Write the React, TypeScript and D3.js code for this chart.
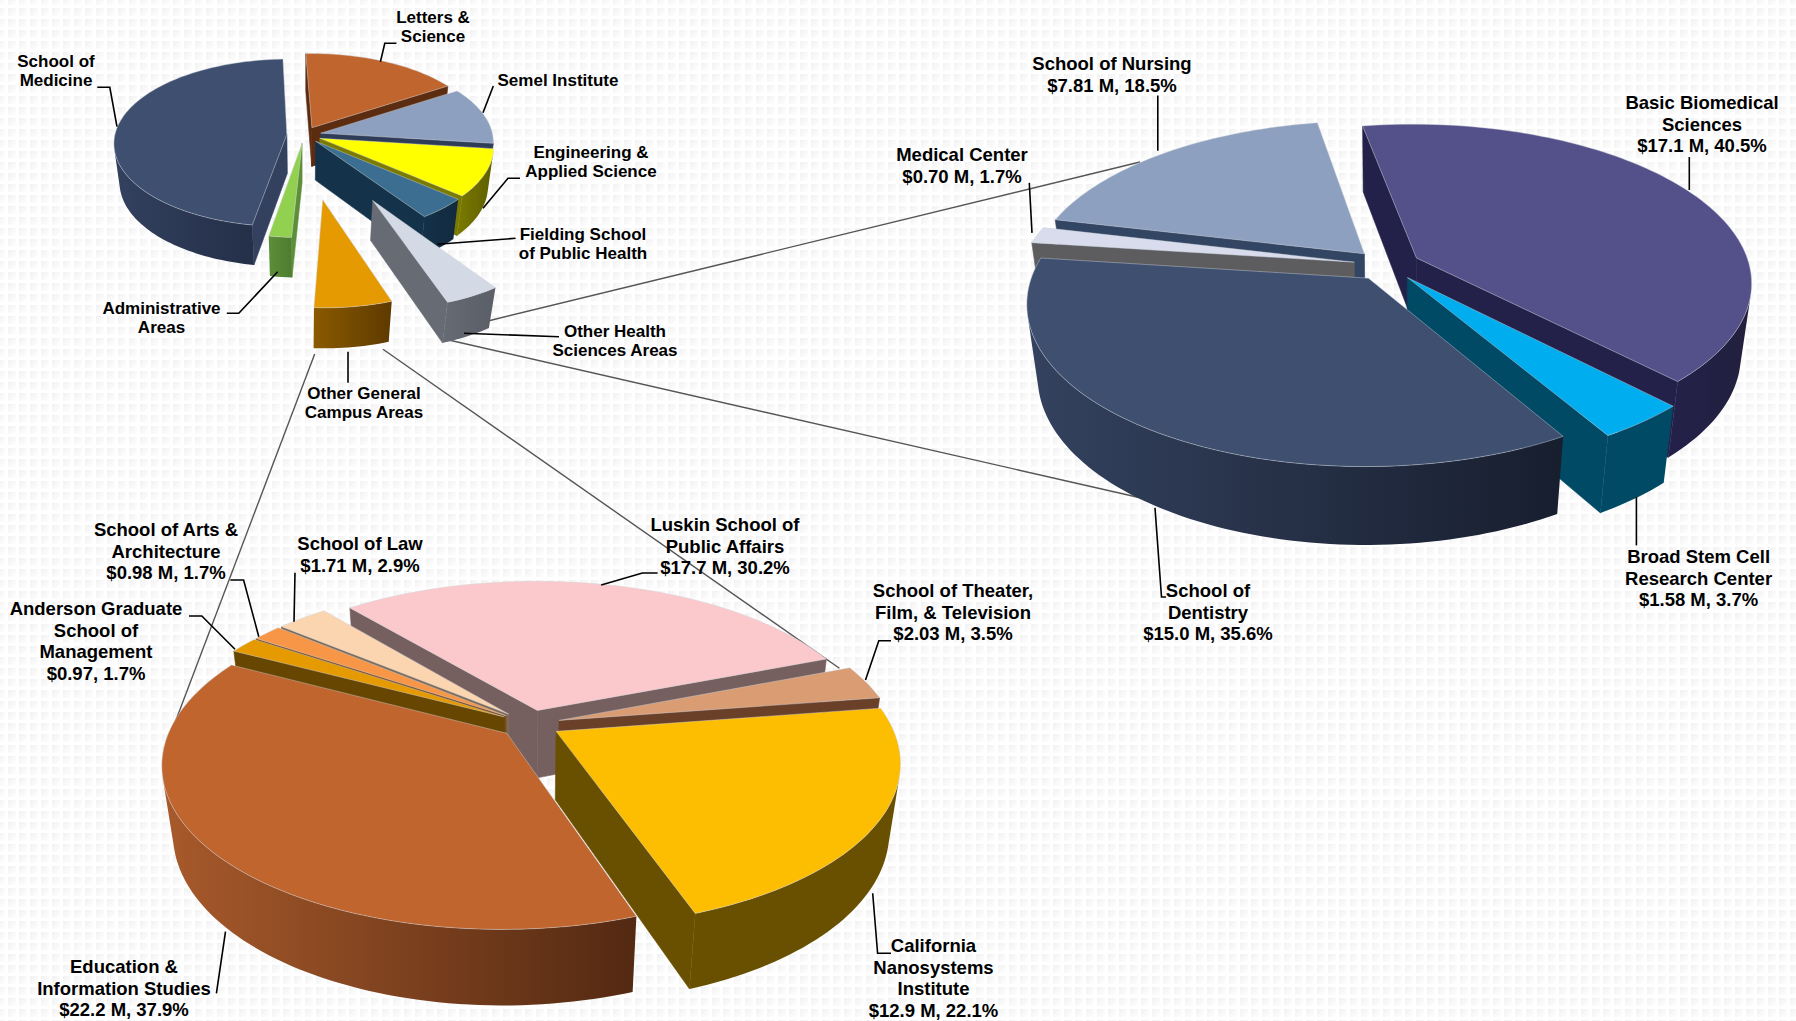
import { useEffect, useRef } from "react";
import * as d3 from "d3";

const WIDTH = 1796;
const HEIGHT = 1021;

// main pie, values (percent of total)
const campusNames = ["Letters & Science", "Semel Institute", "Engineering & Applied Science", "Fielding School of Public Health", "Other Health Sciences Areas", "Other General Campus Areas", "Administrative Areas", "School of Medicine"];
const campusValues = [16.5, 11, 9.2, 4.2, 4.4, 6.1, 1.9, 46.7];

const healthNames = ["Basic Biomedical Sciences", "Broad Stem Cell Research Center", "School of Dentistry", "Medical Center", "School of Nursing"];
const healthValues = [17.1, 1.58, 15.0, 0.7, 7.81];

const generalNames = ["Luskin School of Public Affairs", "School of Theater, Film, & Television", "California Nanosystems Institute", "Education & Information Studies", "Anderson Graduate School of Management", "School of Arts & Architecture", "School of Law"];
const generalValues = [17.7, 2.03, 12.9, 22.2, 0.97, 0.98, 1.71];

// styling per slice: top colour, wall colour left -> right
const campusTop = ["#C0652D", "#8EA0C0", "#FFFF00", "#3C6E91", "#D3DAE6", "#E49A00", "#92D050", "#3E4F70"];
const campusWall = [["#5C2C10", "#5C2C10"], ["#2E3C58", "#2E3C58"], ["#7A7A00", "#5E5E00"], ["#14324A", "#122A3E"], ["#666B74", "#5A5E66"], ["#8A5A00", "#5E3A00"], ["#5C8F38", "#4E7C30"], ["#33415F", "#242F48"]];
const campusExplode = [0.1, 0.1, 0.1, 0.1, 0.82, 0.73, 0.1, 0.1];

const healthTop = ["#54508A", "#00AEEF", "#3E4F70", "#D8DCEC", "#8EA0C0"];
const healthWall = [["#23214A", "#22203C"], ["#004A66", "#004A66"], ["#34425F", "#171E2E"], ["#5D5D60", "#5D5D60"], ["#324563", "#324563"]];

const generalTop = ["#FBC9CB", "#D99C73", "#FDBD00", "#C0652D", "#E49A00", "#F79646", "#FBD5B0"];
const generalWall = [["#76605F", "#6E5A5A"], ["#6A4028", "#6A4028"], ["#695000", "#695000"], ["#A85A2B", "#532912"], ["#664600", "#664600"], ["#7A4A20", "#7A4A20"], ["#7E6A58", "#7E6A58"]];

// text blocks: first line centre, line spacing
const labels = [
  { lines: ["Letters &", "Science"], x: 433, y: 17, gap: 19.5, size: 17 },
  { lines: ["School of", "Medicine"], x: 56, y: 61, gap: 19.5, size: 17 },
  { lines: ["Semel Institute"], x: 558, y: 80, gap: 19.5, size: 17 },
  { lines: ["Engineering &", "Applied Science"], x: 591, y: 152, gap: 19.5, size: 17 },
  { lines: ["Fielding School", "of Public Health"], x: 583, y: 233.6, gap: 19.5, size: 17 },
  { lines: ["Other Health", "Sciences Areas"], x: 615, y: 331, gap: 19.5, size: 17 },
  { lines: ["Other General", "Campus Areas"], x: 364, y: 393, gap: 19.5, size: 17 },
  { lines: ["Administrative", "Areas"], x: 161.5, y: 308, gap: 19.5, size: 17 },
  { lines: ["School of Nursing", "$7.81 M, 18.5%"], x: 1112, y: 64, gap: 21.5, size: 18.5 },
  { lines: ["Medical Center", "$0.70 M, 1.7%"], x: 962, y: 154.6, gap: 21.5, size: 18.5 },
  { lines: ["Basic Biomedical", "Sciences", "$17.1 M, 40.5%"], x: 1702, y: 103, gap: 21.5, size: 18.5 },
  { lines: ["Broad Stem Cell", "Research Center", "$1.58 M, 3.7%"], x: 1698.6, y: 556.7, gap: 21.5, size: 18.5 },
  { lines: ["School of", "Dentistry", "$15.0 M, 35.6%"], x: 1208, y: 591, gap: 21.5, size: 18.5 },
  { lines: ["Luskin School of", "Public Affairs", "$17.7 M, 30.2%"], x: 725, y: 524.6, gap: 21.5, size: 18.5 },
  { lines: ["School of Theater,", "Film, & Television", "$2.03 M, 3.5%"], x: 953, y: 591, gap: 21.5, size: 18.5 },
  { lines: ["School of Law", "$1.71 M, 2.9%"], x: 360, y: 544, gap: 21.5, size: 18.5 },
  { lines: ["School of Arts &", "Architecture", "$0.98 M, 1.7%"], x: 166, y: 530, gap: 21.5, size: 18.5 },
  { lines: ["Anderson Graduate", "School of", "Management", "$0.97, 1.7%"], x: 96, y: 609, gap: 21.5, size: 18.5 },
  { lines: ["Education &", "Information Studies", "$22.2 M, 37.9%"], x: 124, y: 967, gap: 21.5, size: 18.5 },
  { lines: ["California", "Nanosystems", "Institute", "$12.9 M, 22.1%"], x: 933.5, y: 946, gap: 21.5, size: 18.5 },
];

const leaders: [number, number][][] = [
  [[97.3, 87.3], [109.8, 87.3], [117, 126.7]],
  [[396.4, 43.3], [384.8, 43.3], [380.4, 61.7]],
  [[493.3, 86], [483, 112.7]],
  [[520, 178.3], [508, 178.3], [483, 208.3]],
  [[515.6, 238.3], [437.5, 244.3]],
  [[559, 336.7], [464, 333.3]],
  [[348, 351.7], [348, 382.7]],
  [[226.8, 313.3], [238.8, 313.3], [277.7, 271.7]],
  [[1157.8, 95.4], [1157.8, 150.7]],
  [[1029.3, 182.9], [1032, 232.9]],
  [[1689.3, 157], [1689.3, 190]],
  [[1636.4, 497], [1636.4, 545.4]],
  [[1155, 507.9], [1161.5, 597], [1166, 597]],
  [[657.6, 573], [642.4, 573], [601.2, 585]],
  [[891, 640.7], [878.8, 640.7], [865.5, 680]],
  [[872.7, 893.3], [877.6, 953.3], [891, 953.3]],
  [[225.5, 931.7], [216.4, 993.3]],
  [[295, 572.7], [294, 621.7]],
  [[230.3, 580], [243.6, 580], [258.8, 636.7]],
  [[189, 616], [201.8, 616], [235, 649.3]],
];

// grey lines tying the exploded slices to the two detail pies
const connectors: [number, number][][] = [
  [[489, 320.7], [1140, 162]],
  [[448.7, 340], [1150, 500]],
  [[314.7, 354], [176, 720]],
  [[383, 349.3], [839.4, 668.3]],
];

interface PieOpts {
  id: string;
  values: number[];
  names: string[];
  top: string[];
  wall: string[][];
  explode: number[];
  cx: number;
  cy: number;
  rx: number;
  ry: number;
  depth: number;
  k: number; // perspective in the pie plane
  m: number; // perspective along the height
  start: number; // degrees clockwise from north
}

const rad = (d: number) => (d * Math.PI) / 180;

function drawPie(root: d3.Selection<SVGGElement, unknown, null, undefined>, o: PieOpts) {
  const project = (x: number, y: number, z: number): [number, number] => {
    const w = 1 - o.k * y + o.m * z;
    return [o.rx * (x / w), (o.ry * y + o.depth * z) / w];
  };
  const line = d3.line();

  const arcs = d3
    .pie<number>()
    .sort(null)
    .startAngle(rad(o.start))
    .endAngle(rad(o.start + 360))(o.values);

  // far slices first
  const order = d3.range(arcs.length).sort((a, b) => {
    const ma = (arcs[a].startAngle + arcs[a].endAngle) / 2;
    const mb = (arcs[b].startAngle + arcs[b].endAngle) / 2;
    return -Math.cos(ma) - -Math.cos(mb);
  });

  const area = (q: [number, number][]) =>
    d3.sum(q, (p, i) => {
      const n = q[(i + 1) % q.length];
      return p[0] * n[1] - n[0] * p[1];
    });

  order.forEach((i) => {
    const arc = arcs[i];
    const mid = (arc.startAngle + arc.endAngle) / 2;
    const ex = o.explode[i] * Math.sin(mid);
    const ey = -o.explode[i] * Math.cos(mid);
    const rim = (a: number, z: number) => project(Math.sin(a) + ex, -Math.cos(a) + ey, z);

    const g = root.append("g").attr("transform", `translate(${o.cx},${o.cy})`);
    g.append("title").text(o.names[i]);

    const angles = d3.range(arc.startAngle, arc.endAngle, rad(1.5)).concat(arc.endAngle);
    const apexTop = project(ex, ey, 0);
    const apexBottom = project(ex, ey, 1);

    // radial walls, back faces dropped
    const wallA: [number, number][] = [apexTop, rim(arc.startAngle, 0), rim(arc.startAngle, 1), apexBottom];
    const wallB: [number, number][] = [rim(arc.endAngle, 0), apexTop, apexBottom, rim(arc.endAngle, 1)];
    [wallA, wallB]
      .filter((q) => area(q) < 0)
      .forEach((q) => {
        g.append("path")
          .attr("d", line(q) + "Z")
          .attr("fill", o.wall[i][0])
          .attr("stroke", o.wall[i][0])
          .attr("stroke-width", 0.6);
      });

    // rim wall: only the part facing the viewer, shaded left to right
    const visible = d3
      .pairs(angles)
      .filter(([a, b]) => area([rim(a, 0), rim(b, 0), rim(b, 1), rim(a, 1)]) < 0);
    if (visible.length) {
      const seen = [visible[0][0], ...visible.map((p) => p[1])];
      const outline = [...seen.map((a) => rim(a, 0)), ...seen.slice().reverse().map((a) => rim(a, 1))];
      const [x0, x1] = d3.extent(outline, (p) => p[0]) as [number, number];
      const gid = `${o.id}-wall-${i}`;
      const grad = g
        .append("linearGradient")
        .attr("id", gid)
        .attr("gradientUnits", "userSpaceOnUse")
        .attr("x1", x0)
        .attr("x2", x1)
        .attr("y1", 0)
        .attr("y2", 0);
      grad.append("stop").attr("offset", 0).attr("stop-color", o.wall[i][0]);
      grad.append("stop").attr("offset", 1).attr("stop-color", o.wall[i][1]);
      g.append("path")
        .attr("d", line(outline) + "Z")
        .attr("fill", `url(#${gid})`);
    }

    const face = [apexTop, ...angles.map((a) => rim(a, 0))] as [number, number][];
    g.append("path")
      .attr("d", line(face) + "Z")
      .attr("fill", o.top[i])
      .attr("stroke", "#cfd3da")
      .attr("stroke-opacity", 0.55)
      .attr("stroke-width", 0.8)
      .attr("stroke-linejoin", "round");
  });
}

const App = () => {
  const svgRef = useRef<SVGSVGElement>(null);

  useEffect(() => {
    if (!svgRef.current) return;
    document.body.style.margin = "0";

    const svg = d3.select(svgRef.current);
    svg.selectAll("*").remove();

    // faint dotted slide background
    const defs = svg.append("defs");
    const grad = defs
      .append("linearGradient")
      .attr("id", "dot")
      .attr("x1", 0)
      .attr("y1", 0)
      .attr("x2", 1)
      .attr("y2", 1);
    grad.append("stop").attr("offset", 0).attr("stop-color", "#f1f1f1");
    grad.append("stop").attr("offset", 1).attr("stop-color", "#ffffff");
    const pat = defs
      .append("pattern")
      .attr("id", "dots")
      .attr("patternUnits", "userSpaceOnUse")
      .attr("x", 8)
      .attr("y", 8)
      .attr("width", 11)
      .attr("height", 11);
    pat.append("rect").attr("width", 8).attr("height", 8).attr("fill", "url(#dot)");
    svg.append("rect").attr("width", WIDTH).attr("height", HEIGHT).attr("fill", "#fff");
    svg.append("rect").attr("width", WIDTH).attr("height", HEIGHT).attr("fill", "url(#dots)");

    const line = d3.line();

    svg
      .append("g")
      .selectAll("path")
      .data(connectors)
      .join("path")
      .attr("d", (d) => line(d))
      .attr("fill", "none")
      .attr("stroke", "#555")
      .attr("stroke-width", 1.4);

    const pies = svg.append("g") as unknown as d3.Selection<SVGGElement, unknown, null, undefined>;

    drawPie(pies, {
      id: "campus",
      values: campusValues,
      names: campusNames,
      top: campusTop,
      wall: campusWall,
      explode: campusExplode,
      cx: 304,
      cy: 135,
      rx: 172,
      ry: 83,
      depth: 40,
      k: 0.1,
      m: 0.03,
      start: -2,
    });
    drawPie(pies, {
      id: "health",
      values: healthValues,
      names: healthNames,
      top: healthTop,
      wall: healthWall,
      explode: healthValues.map(() => 0.1),
      cx: 1387,
      cy: 265,
      rx: 333,
      ry: 155.8,
      depth: 74,
      k: 0.15,
      m: 0.03,
      start: -10,
    });
    drawPie(pies, {
      id: "general",
      values: generalValues,
      names: generalNames,
      top: generalTop,
      wall: generalWall,
      explode: generalValues.map(() => 0.09),
      cx: 530,
      cy: 724,
      rx: 335,
      ry: 157,
      depth: 70,
      k: 0.18,
      m: 0.03,
      start: -40,
    });

    svg
      .append("g")
      .selectAll("path")
      .data(leaders)
      .join("path")
      .attr("d", (d) => line(d))
      .attr("fill", "none")
      .attr("stroke", "#000")
      .attr("stroke-width", 1.6);

    const text = svg
      .append("g")
      .attr("font-family", "'Liberation Sans', Arial, sans-serif")
      .attr("font-weight", "bold")
      .attr("text-anchor", "middle")
      .attr("fill", "#000")
      .selectAll("text")
      .data(labels)
      .join("text")
      .attr("font-size", (d) => d.size);
    text
      .selectAll("tspan")
      .data((d) => d.lines.map((t, i) => ({ t, x: d.x, y: d.y + i * d.gap + d.size * 0.35 })))
      .join("tspan")
      .attr("x", (d) => d.x)
      .attr("y", (d) => d.y)
      .text((d) => d.t);
  }, []);

  return <svg ref={svgRef} width={WIDTH} height={HEIGHT} style={{ display: "block" }} />;
};

export default App;
